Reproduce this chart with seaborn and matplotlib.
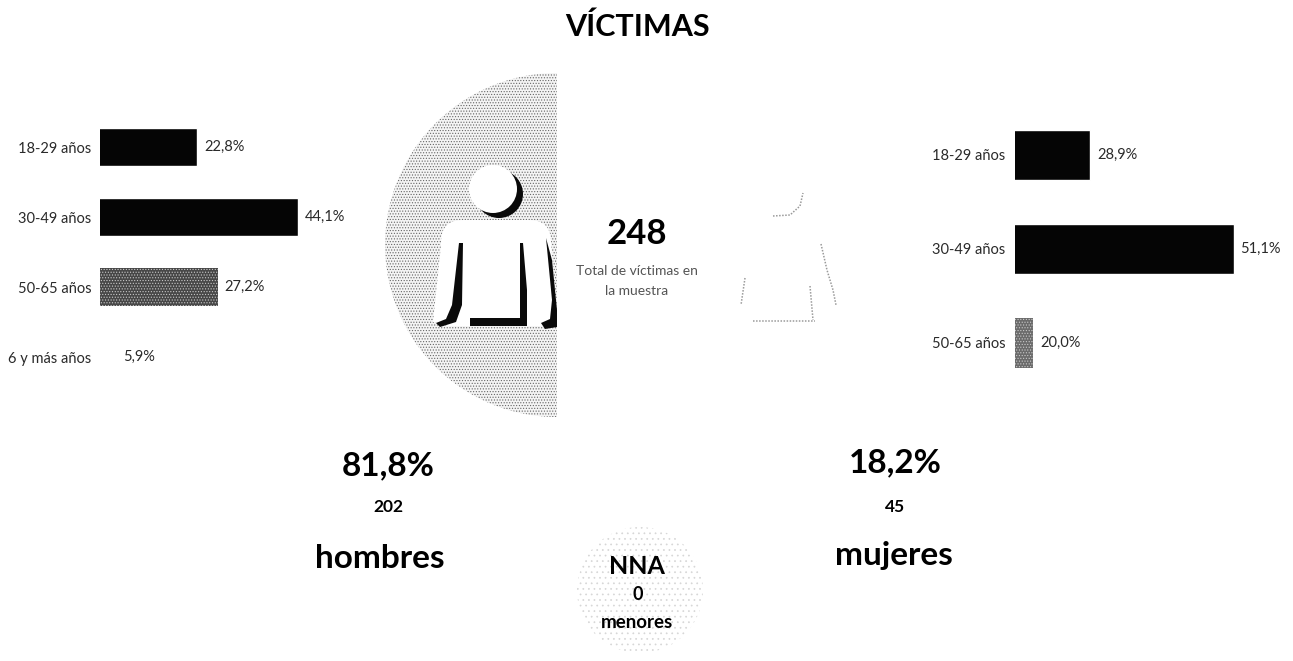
import matplotlib
matplotlib.use("Agg")
import matplotlib.pyplot as plt
import seaborn as sns
import pandas as pd
from matplotlib.patches import Wedge, Circle, FancyBboxPatch, Polygon

W, H = 1293, 661

men_groups = ["18-29 años", "30-49 años", "50-65 años", "6 y más años"]
men_values = [22.8, 44.1, 27.2, 5.9]
men_colors = ["#050505", "#050505", "#474747", "#ffffff"]

women_groups = ["18-29 años", "30-49 años", "50-65 años"]
women_values = [28.9, 51.1, 20.0]
women_colors = ["#050505", "#050505", "#6b6b6b"]

title = "VÍCTIMAS"
total = "248"
total_caption = ["Total de víctimas en", "la muestra"]
men_share, men_count, men_word = "81,8%", "202", "hombres"
women_share, women_count, women_word = "18,2%", "45", "mujeres"
minors = ["NNA", "0", "menores"]

sns.set_theme(style="white")
plt.rcParams["font.family"] = ["Lato", "DejaVu Sans"]
plt.rcParams["hatch.linewidth"] = 0.5

fig = plt.figure(figsize=(W / 100, H / 100), dpi=100, facecolor="white")
bg = fig.add_axes([0, 0, 1, 1])
bg.set_xlim(0, W)
bg.set_ylim(H, 0)
bg.axis("off")


def put_axes(x0, y0, x1, y1):
    ax = fig.add_axes([x0 / W, 1 - y1 / H, (x1 - x0) / W, (y1 - y0) / H])
    ax.patch.set_alpha(0)
    return ax


def bars(ax, groups, values, colors, xmin, xmax, size, pad, label_color):
    df = pd.DataFrame({"grupo": groups, "pct": values})
    sns.barplot(data=df, y="grupo", x="pct", hue="grupo", palette=colors,
                order=groups, hue_order=groups, legend=False, width=0.54,
                saturation=1, ax=ax)
    ax.set_xlim(xmin, xmax)
    ax.set_xlabel("")
    ax.set_ylabel("")
    ax.set_xticks([])
    ax.tick_params(axis="y", length=0, pad=pad, labelsize=size, labelcolor="#2a2a2a")
    sns.despine(ax=ax, left=True, bottom=True)
    for c, v in zip(ax.containers, values):
        ax.bar_label(c, labels=[f"{v:.1f}%".replace(".", ",")], padding=5,
                     fontsize=size, color=label_color)
    # scanned halftone on the mid-grey bar
    for p, col in zip(ax.patches, colors):
        if col not in ("#050505", "#ffffff"):
            p.set_hatch("......")
            p.set_edgecolor("#c8c8c8")
            p.set_linewidth(0)


# left bars: axis starts above zero in the original
men_ax = put_axes(100, 112, 380, 392)
bars(men_ax, men_groups, men_values, men_colors, 2.4, 2.4 + 280 / 4.75, 10.5, 6, "#2a2a2a")

women_ax = put_axes(1015, 108, 1293, 390)
bars(women_ax, women_groups, women_values, women_colors, 17.2, 17.2 + 278 / 6.45, 10.5, 7, "#2a2a2a")

# man icon on stippled half disc
bg.add_patch(Wedge((557, 245), 172, 90, 270, facecolor="#f4f4f4", edgecolor="#666666",
                   hatch="......", linewidth=0))
dark = "#0a0a0a"
bg.add_patch(Circle((499, 194), 24, facecolor=dark, linewidth=0))
bg.add_patch(Circle((493, 189), 24, facecolor="white", linewidth=0))
bg.add_patch(FancyBboxPatch((441, 220), 110, 106, boxstyle="round,pad=0,rounding_size=22",
                            facecolor="white", linewidth=0))
bg.add_patch(Polygon([(441, 245), (433, 322), (448, 326), (466, 326), (466, 245)],
                     closed=True, facecolor="white", linewidth=0))
bg.add_patch(Polygon([(551, 240), (557, 326), (528, 326), (528, 245)],
                     closed=True, facecolor="white", linewidth=0))
for pts in (
    [(459, 243), (463, 243), (462, 305), (456, 322), (440, 327), (436, 323), (446, 319), (452, 305)],
    [(520, 243), (523, 243), (527, 290), (527, 326), (470, 326), (470, 318), (520, 318)],
    [(546, 238), (552, 260), (557, 310), (557, 327), (545, 329), (541, 323), (550, 319), (552, 300)],
):
    bg.add_patch(Polygon(pts, closed=True, facecolor=dark, linewidth=0))

# woman icon: barely visible traces on white
traces = [
    [(773, 216), (790, 215), (800, 206), (803, 193)],
    [(821, 244), (827, 270), (833, 290), (836, 305)],
    [(810, 286), (813, 320)],
    [(753, 321), (815, 321)],
    [(745, 278), (741, 305)],
]
for t in traces:
    bg.plot(*zip(*t), color="#9a9a9a", lw=1.1, ls=(0, (1, 1)))

# minors badge
bg.add_patch(Circle((640, 590), 63, facecolor="white", edgecolor="#d6d6d6",
                    hatch="...", linewidth=0))

# texts
def t(x, y, s, size, color="black", weight="bold"):
    bg.text(x, y, s, ha="center", va="center", fontsize=size, color=color, fontweight=weight)


t(637, 27, title, 22)
t(637, 234, total, 25)
t(637, 271, total_caption[0], 10, "#555555", "normal")
t(637, 291, total_caption[1], 10, "#555555", "normal")
t(388, 466, men_share, 24)
t(388, 507, men_count, 12.5)
t(380, 558, men_word, 24)
t(895, 463, women_share, 24)
t(895, 507, women_count, 12.5)
t(894, 556, women_word, 24)
t(637, 566, minors[0], 18)
t(638, 594, minors[1], 13)
t(637, 622, minors[2], 13.5)

fig.savefig("out.png", dpi=100, facecolor="white")
